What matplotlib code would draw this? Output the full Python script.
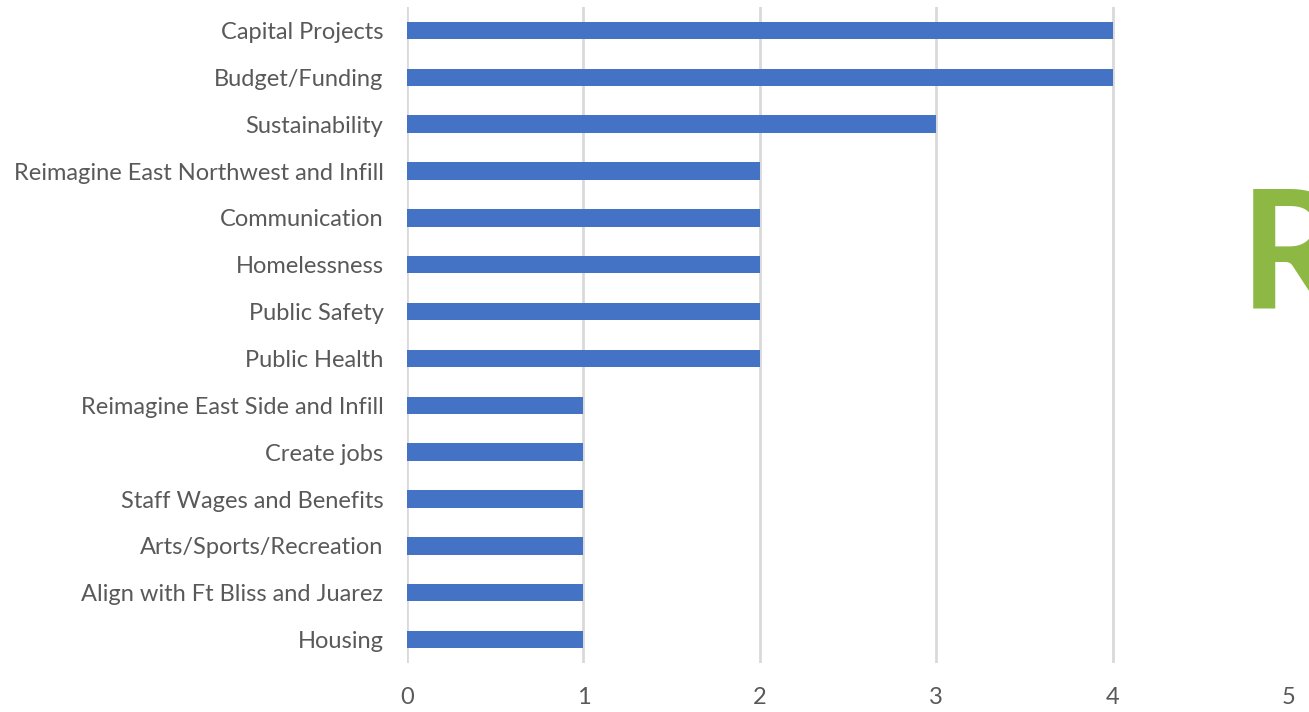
import matplotlib.pyplot as plt

categories = [
    "Capital Projects",
    "Budget/Funding",
    "Sustainability",
    "Reimagine East Northwest and Infill",
    "Communication",
    "Homelessness",
    "Public Safety",
    "Public Health",
    "Reimagine East Side and Infill",
    "Create jobs",
    "Staff Wages and Benefits",
    "Arts/Sports/Recreation",
    "Align with Ft Bliss and Juarez",
    "Housing",
]
counts = [4, 4, 3, 2, 2, 2, 2, 2, 1, 1, 1, 1, 1, 1]
x_ticks = [0, 1, 2, 3, 4, 5]

BAR = "#4472C4"
GRID = "#D9D9D9"
TEXT = "#595959"
FONT = ["Lato", "DejaVu Sans"]

W, H = 1309, 712
fig = plt.figure(figsize=(W / 100, H / 100), dpi=100)
ax = fig.add_axes([407 / W, 1 - 663 / H, (1289 - 407) / W, (663 - 7) / H])

ypos = list(range(len(categories)))
ax.barh(ypos, counts, height=0.37, color=BAR, zorder=3)
ax.set_ylim(len(categories) - 0.5, -0.5)
ax.set_xlim(0, 5)

ax.set_yticks(ypos)
ax.set_yticklabels(categories, fontsize=17, color=TEXT, family=FONT)
ax.set_xticks(x_ticks)
ax.set_xticklabels([str(t) for t in x_ticks], fontsize=17, color=TEXT, family=FONT)
ax.tick_params(axis="both", length=0)
ax.tick_params(axis="y", pad=17)
ax.tick_params(axis="x", pad=17)

ax.grid(axis="x", color=GRID, linewidth=2, zorder=0)
ax.xaxis.get_gridlines()[-1].set_visible(False)
for s in ax.spines.values():
    s.set_visible(False)

# green logo letter peeking in at the right edge
fig.text(1240 / W, 1 - 308 / H, "R", fontsize=118, fontweight="bold",
         color="#8DB843", family=FONT, ha="left", va="baseline")

fig.savefig("out.png", dpi=100)
